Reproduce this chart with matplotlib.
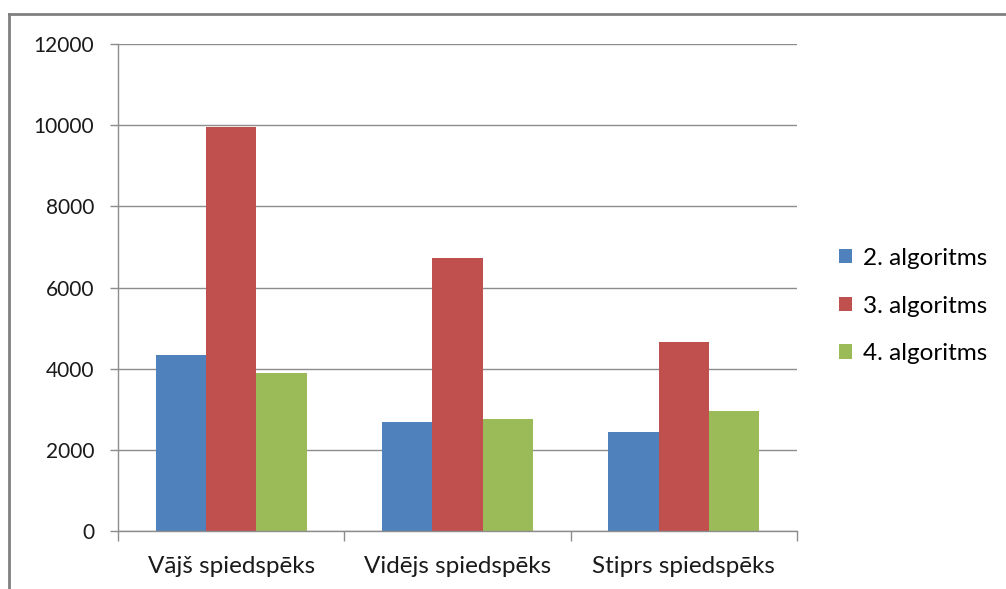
import numpy as np
import matplotlib.pyplot as plt
from matplotlib.lines import Line2D

plt.rcParams['font.family'] = ['Lato', 'DejaVu Sans']

categories = ['Vājš spiedspēks', 'Vidējs spiedspēks', 'Stiprs spiedspēks']
series_names = ['2. algoritms', '3. algoritms', '4. algoritms']
alg2 = [4330, 2690, 2440]
alg3 = [9950, 6730, 4650]
alg4 = [3890, 2760, 2950]
colors = ['#4F81BD', '#C0504D', '#9BBB59']

fig = plt.figure(figsize=(10.06, 5.89), dpi=100)
ax = fig.add_axes([118/1006, 1-531/589, (797-118)/1006, (531-44)/589])

x = np.arange(len(categories))
w = 1/4.5
for i, (vals, name, c) in enumerate(zip([alg2, alg3, alg4], series_names, colors)):
    ax.bar(x + (i-1)*w, vals, width=w, color=c, label=name, zorder=2)

ax.set_xlim(-0.5, len(categories)-0.5)
ax.set_ylim(0, 12000)
ax.set_yticks(range(0, 12001, 2000))
ax.yaxis.grid(True, color='#8c8c8c', linewidth=1, zorder=0)
ax.set_xticks(x)
ax.set_xticklabels(categories, fontsize=17.5, color='#1a1a1a')
ax.set_xticks(np.arange(-0.5, len(categories), 1), minor=True)
ax.tick_params(axis='x', which='major', length=0, pad=18)
ax.tick_params(axis='x', which='minor', length=7, color='#8c8c8c', width=1)
ax.tick_params(axis='y', length=6, color='#8c8c8c', width=1, labelsize=15,
               labelcolor='#1a1a1a', pad=11)
for s in ['top', 'right']:
    ax.spines[s].set_visible(False)
for s in ['left', 'bottom']:
    ax.spines[s].set_color('#8c8c8c')
    ax.spines[s].set_linewidth(1)

ax.legend(loc='center left', bbox_to_anchor=(1.062, 0.462), frameon=False,
          fontsize=17.5, handlelength=0.55, handleheight=0.55,
          handletextpad=0.45, labelspacing=1.1, borderpad=0, borderaxespad=0)

# chart frame
fig.add_artist(Line2D([9/1006, 9/1006], [0, 1-14/589], color='#808080', linewidth=2))
fig.add_artist(Line2D([9/1006, 1], [1-14/589, 1-14/589], color='#808080', linewidth=2))

fig.savefig('out.png', dpi=100)
